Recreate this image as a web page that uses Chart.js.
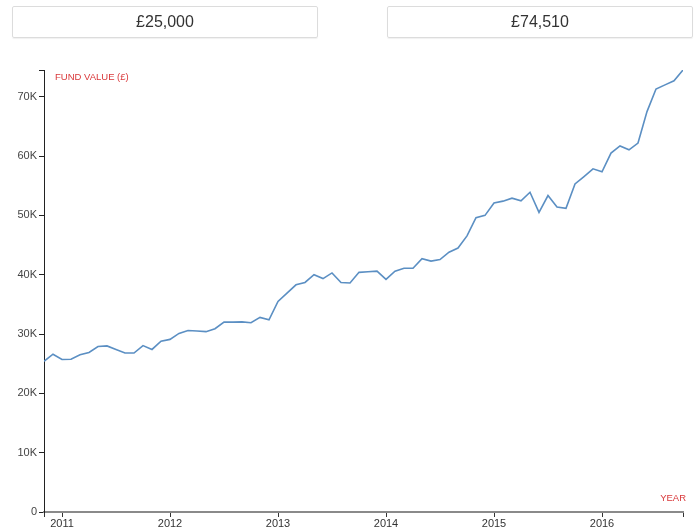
<!DOCTYPE html>
<html>
<head>
<meta charset="utf-8">
<script src="https://cdn.jsdelivr.net/npm/chart.js@4"></script>
<style>
  body { margin: 0; background: #fff; font-family: "Liberation Sans", Arial, sans-serif; }
  #wrap { position: relative; width: 700px; height: 527px; }
  #chart { position: absolute; left: 0; top: 0; }
  .box {
    position: absolute; top: 6px; height: 30px; width: 304px;
    border: 1px solid #dcdcdc; border-radius: 2px;
    box-shadow: 0 1px 1px rgba(0,0,0,0.06);
    text-align: center; line-height: 30px; font-size: 16px; color: #333;
  }
  .lbl { position: absolute; font-size: 9.5px; color: #d9383a; }
</style>
</head>
<body>
<div id="wrap">
  <canvas id="chart" width="700" height="527"></canvas>
  <div class="box" style="left:12px">£25,000</div>
  <div class="box" style="left:387px">£74,510</div>
  <div class="lbl" style="left:55px; top:71px">FUND VALUE (£)</div>
  <div class="lbl" style="right:14px; top:492px">YEAR</div>
</div>
<script>
// monthly fund values, nov 2010 -> oct 2016
let months = [
  '2010-11','2010-12',
  '2011-01','2011-02','2011-03','2011-04','2011-05','2011-06','2011-07','2011-08','2011-09','2011-10','2011-11','2011-12',
  '2012-01','2012-02','2012-03','2012-04','2012-05','2012-06','2012-07','2012-08','2012-09','2012-10','2012-11','2012-12',
  '2013-01','2013-02','2013-03','2013-04','2013-05','2013-06','2013-07','2013-08','2013-09','2013-10','2013-11','2013-12',
  '2014-01','2014-02','2014-03','2014-04','2014-05','2014-06','2014-07','2014-08','2014-09','2014-10','2014-11','2014-12',
  '2015-01','2015-02','2015-03','2015-04','2015-05','2015-06','2015-07','2015-08','2015-09','2015-10','2015-11','2015-12',
  '2016-01','2016-02','2016-03','2016-04','2016-05','2016-06','2016-07','2016-08','2016-09','2016-10'
];
let fundValues = [
  25400, 26600,
  25700, 25750, 26500, 26900, 27900, 28000, 27400, 26800, 26800, 28050, 27400, 28800,
  29100, 30100, 30600, 30500, 30400, 30900, 32000, 32000, 32050, 31900, 32800, 32400,
  35500, 36900, 38300, 38700, 40000, 39350, 40300, 38700, 38600, 40400, 40500, 40600,
  39200, 40600, 41100, 41100, 42700, 42300, 42550, 43800, 44500, 46550, 49600, 50000,
  52100, 52400, 52900, 52450, 53900, 50500, 53350, 51400, 51200, 55300, 56550, 57850,
  57350, 60500, 61700, 61050, 62200, 67500, 71300, 72000, 72700, 74510
];
let yearTicks = [2011, 2012, 2013, 2014, 2015, 2016];
let valueTicks = [0, 10000, 20000, 30000, 40000, 50000, 60000, 70000];

// turn 'yyyy-mm' into a decimal year
function toYear(m) {
  let parts = m.split('-');
  return Number(parts[0]) + (Number(parts[1]) - 1) / 12;
}

let points = months.map((m, i) => ({ x: toYear(m), y: fundValues[i] }));
let xMin = toYear(months[0]);
let xMax = toYear(months[months.length - 1]);
let yMax = Math.max(...fundValues);

let tickFont = { family: '"Liberation Sans", Arial, sans-serif', size: 11 };

let ctx = document.getElementById('chart').getContext('2d');
new Chart(ctx, {
  type: 'line',
  data: {
    datasets: [{
      data: points,
      borderColor: '#5b8fc3',
      borderWidth: 1.6,
      pointRadius: 0,
      tension: 0,
      fill: false
    }]
  },
  options: {
    responsive: false,
    animation: false,
    layout: { padding: { top: 70, right: 17, left: 0, bottom: 0 } },
    plugins: { legend: { display: false }, tooltip: { enabled: false } },
    scales: {
      x: {
        type: 'linear',
        min: xMin,
        max: xMax,
        afterBuildTicks: s => { s.ticks = [xMin].concat(yearTicks, [xMax]).map(v => ({ value: v })); },
        afterFit: s => { s.height = 15; },
        grid: { drawOnChartArea: false, color: '#333', tickLength: 5 },
        border: { color: '#8a8a8a', width: 2 },
        ticks: {
          autoSkip: false, maxRotation: 0, padding: 0,
          color: '#333', font: tickFont,
          callback: v => yearTicks.includes(v) ? String(v) : ''
        }
      },
      y: {
        min: 0,
        max: yMax,
        afterBuildTicks: s => { s.ticks = valueTicks.concat([yMax]).map(v => ({ value: v })); },
        afterFit: s => { s.width = 44; },
        grid: { drawOnChartArea: false, color: '#222', tickLength: 5 },
        border: { color: '#222', width: 1 },
        ticks: {
          padding: 2, color: '#444', font: tickFont,
          callback: v => v === 0 ? '0' : (valueTicks.includes(v) ? (v / 1000) + 'K' : '')
        }
      }
    }
  }
});
</script>
</body>
</html>
